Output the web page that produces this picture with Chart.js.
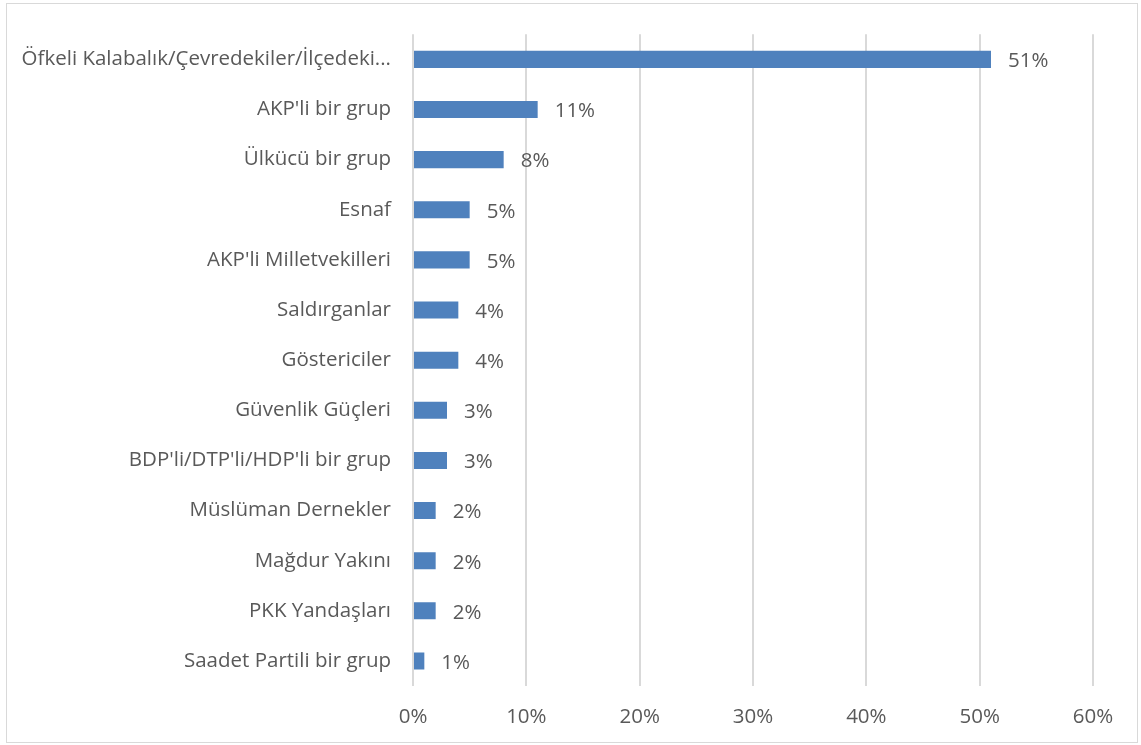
<!DOCTYPE html>
<html>
<head>
<meta charset="utf-8">
<script src="https://cdn.jsdelivr.net/npm/chart.js@4/dist/chart.umd.min.js"></script>
<style>
  html, body { margin: 0; padding: 0; background: #fff; }
  #wrap { position: relative; width: 1141px; height: 745px; }
</style>
</head>
<body>
<div id="wrap"><canvas id="bar-chart" width="1141" height="745"></canvas></div>
<script>
const categories = [
  "Öfkeli Kalabalık/Çevredekiler/İlçedeki...",
  "AKP'li bir grup",
  "Ülkücü bir grup",
  "Esnaf",
  "AKP'li Milletvekilleri",
  "Saldırganlar",
  "Göstericiler",
  "Güvenlik Güçleri",
  "BDP'li/DTP'li/HDP'li bir grup",
  "Müslüman Dernekler",
  "Mağdur Yakını",
  "PKK Yandaşları",
  "Saadet Partili bir grup"
];
const shares = [51, 11, 8, 5, 5, 4, 4, 3, 3, 2, 2, 2, 1];
const xTicks = [0, 10, 20, 30, 40, 50, 60];

const textColor = "#595959";
const fontFamily = "'Open Sans', 'Noto Sans', sans-serif";
const fontSize = 20.5;

// value labels at the end of each bar
const valueLabels = {
  id: "valueLabels",
  afterDatasetsDraw(chart) {
    const ctx = chart.ctx;
    const meta = chart.getDatasetMeta(0);
    ctx.save();
    ctx.font = fontSize + "px " + fontFamily;
    ctx.fillStyle = textColor;
    ctx.textAlign = "left";
    ctx.textBaseline = "middle";
    meta.data.forEach((bar, i) => {
      ctx.fillText(shares[i] + "%", bar.x + 17, bar.y + 2);
    });
    ctx.restore();
  }
};

// thin frame round the whole chart
const frame = {
  id: "frame",
  beforeDraw(chart) {
    const ctx = chart.ctx;
    ctx.save();
    ctx.fillStyle = "#fff";
    ctx.fillRect(0, 0, chart.width, chart.height);
    ctx.strokeStyle = "#d9d9d9";
    ctx.lineWidth = 1;
    ctx.strokeRect(6.5, 3.5, 1131, 739);
    ctx.restore();
  }
};

const ctx = document.getElementById("bar-chart").getContext("2d");
new Chart(ctx, {
  type: "bar",
  data: {
    labels: categories,
    datasets: [{
      data: shares,
      backgroundColor: "#4f81bd",
      borderWidth: 0,
      barPercentage: 0.68,
      categoryPercentage: 0.5
    }]
  },
  options: {
    indexAxis: "y",
    responsive: false,
    animation: false,
    layout: { padding: { top: 33, right: 48, left: 10, bottom: 0 } },
    plugins: {
      legend: { display: false },
      tooltip: { enabled: false }
    },
    scales: {
      x: {
        min: 0,
        max: 60,
        afterBuildTicks(axis) {
          axis.ticks = xTicks.map(v => ({ value: v }));
        },
        afterFit(axis) { axis.height = 59; },
        grid: { color: "#d9d9d9", lineWidth: 2, drawTicks: false },
        border: { display: false },
        ticks: {
          padding: 19,
          color: textColor,
          font: { family: fontFamily, size: fontSize },
          callback: v => v + "%"
        }
      },
      y: {
        afterFit(axis) { axis.width = 403; },
        grid: { display: false, drawTicks: false },
        border: { display: false },
        ticks: {
          padding: 22,
          color: textColor,
          font: { family: fontFamily, size: fontSize }
        }
      }
    }
  },
  plugins: [frame, valueLabels]
});
</script>
</body>
</html>
